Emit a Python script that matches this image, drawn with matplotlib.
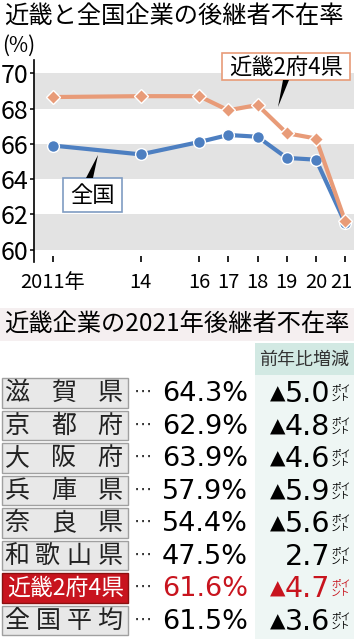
import matplotlib
matplotlib.use("Agg")
import matplotlib.pyplot as plt
import matplotlib.transforms as mtransforms
from matplotlib.patches import Rectangle, Polygon

plt.rcParams['font.family'] = ['Noto Sans CJK JP', 'DejaVu Sans']

# ── DATA ────────────────────────────────────────────────────
years       = [2011, 2014, 2016, 2017, 2018, 2019, 2020, 2021]
year_labels = ["2011年", "14", "16", "17", "18", "19", "20", "21"]
kinki       = [68.65, 68.7, 68.7, 67.9, 68.2, 66.6, 66.3, 61.6]
zenkoku     = [65.9, 65.4, 66.1, 66.5, 66.4, 65.2, 65.1, 61.5]
y_ticks     = [60, 62, 64, 66, 68, 70]

regions = ["滋賀県", "京都府", "大阪府", "兵庫県", "奈良県", "和歌山県", "近畿2府4県", "全国平均"]
rates   = [64.3, 62.9, 63.9, 57.9, 54.4, 47.5, 61.6, 61.5]
changes = [-5.0, -4.8, -4.6, -5.9, -5.6, 2.7, -4.7, -3.6]   # ▲ = minus
highlight = "近畿2府4県"

# ── STYLE ───────────────────────────────────────────────────
W, H = 354, 639
ORANGE = "#e89b78"
BLUE = "#4d7fc1"
BAND = "#e3e3e3"
RED = "#c8141e"

fig = plt.figure(figsize=(W / 100, H / 100), dpi=100)
fig.patch.set_facecolor("white")

# ── LINE CHART ──────────────────────────────────────────────
ax = fig.add_axes([34 / W, 1 - 262 / H, 320 / W, 202 / H])
ax.set_xlim(2010.35, 2021.3)
ax.set_ylim(59.3, 70.75)
for lo in (60, 64, 68):
    ax.axhspan(lo, lo + 2, color=BAND, lw=0, zorder=0)

ax.plot(years, zenkoku, color=BLUE, lw=3, marker="o", ms=8.5,
        mfc=BLUE, mec="white", mew=1, zorder=3)
ax.plot(years, kinki, color=ORANGE, lw=3, marker="D", ms=7.5,
        mfc=ORANGE, mec="white", mew=1, zorder=4)

ax.set_yticks(y_ticks)
ax.set_yticklabels([str(v) for v in y_ticks], fontsize=18)
ax.set_xticks(years)
ax.set_xticklabels(year_labels, fontsize=14.5)
ax.tick_params(axis="y", direction="out", length=3, width=1.1, pad=1)
ax.tick_params(axis="x", direction="in", length=4, width=1.2, pad=7)
# last year label sits right at the edge: nudge it inside
last = ax.get_xticklabels()[-1]
last.set_transform(last.get_transform() +
                   mtransforms.ScaledTranslation(-3 / 72, 0, fig.dpi_scale_trans))
for s in ("top", "right", "bottom"):
    ax.spines[s].set_visible(False)
ax.spines["left"].set_linewidth(1.2)
ax.set_facecolor("white")

# ── OVERLAY (pixel coordinates) ─────────────────────────────
ov = fig.add_axes([0, 0, 1, 1], zorder=5)
ov.set_xlim(0, W)
ov.set_ylim(H, 0)
ov.axis("off")
ov.patch.set_alpha(0)

ov.text(4, 17, "近畿と全国企業の後継者不在率", fontsize=17.5, va="center", ha="left")
ov.text(2, 46, "(%)", fontsize=15, va="center", ha="left")

# series labels
ov.add_patch(Rectangle((222, 53), 128, 27, fc="white", ec=ORANGE, lw=1.2))
ov.text(286, 67, "近畿2府4県", fontsize=16, ha="center", va="center")
ov.add_patch(Polygon([(283, 80), (289, 80), (278, 107)], closed=True, fc="black", ec="none"))

ov.add_patch(Rectangle((63, 178), 59, 34, fc="white", ec="#7f9cc2", lw=1.2))
ov.text(92.5, 195, "全国", fontsize=16, ha="center", va="center")
ov.add_patch(Polygon([(98, 155), (86, 178), (93, 178)], closed=True, fc="black", ec="none"))

# ── TABLE ───────────────────────────────────────────────────
ov.add_patch(Rectangle((0, 308), W, 33, fc="#f5eff0", ec="none"))
ov.text(4, 325, "近畿企業の2021年後継者不在率", fontsize=17.5, va="center", ha="left")

ov.add_patch(Rectangle((255, 375), W - 255, H - 375, fc="#eef6f4", ec="none"))
ov.add_patch(Rectangle((255, 343), W - 255, 32, fc="#d2e9e3", ec="none"))
ov.text(304, 360, "前年比増減", fontsize=13, ha="center", va="center", color="#333333")

renderer = fig.canvas.get_renderer()
row_top, pitch = 377, 32.5
for i, (name, rate, ch) in enumerate(zip(regions, rates, changes)):
    y0 = row_top + i * pitch
    yc = y0 + pitch / 2
    hl = name == highlight
    ov.add_patch(Rectangle((2, y0 + 1), 126, pitch - 3,
                           fc=RED if hl else "#e8e8e8",
                           ec="#8a1010" if hl else "#a0a0a0", lw=1))
    if hl:
        ov.text(66, yc, name, fontsize=16.5, color="white", ha="center", va="center")
    else:
        n = len(name)
        for j, c in enumerate(name):
            ov.text(17 + j * (93 / (n - 1)), yc, c, fontsize=18,
                    ha="center", va="center", color="#222222")
    col = RED if hl else "black"
    ov.text(134, yc - 1, "⋯", fontsize=13, ha="left", va="center",
            family="DejaVu Sans", color="#333333")
    ov.text(248, yc + 1, f"{rate:.1f}%", fontsize=19.5, ha="right", va="center",
            family="DejaVu Sans", color=col)
    num = ov.text(330, yc + 1, f"{abs(ch):.1f}", fontsize=20.5, ha="right", va="center",
                  family="DejaVu Sans", color=col)
    if ch < 0:
        bb = num.get_window_extent(renderer)
        left_px = bb.x0 * W / fig.bbox.width
        ov.text(left_px + 1, yc + 1, "▲", fontsize=14.5, ha="right", va="center",
                family="DejaVu Sans", color=col)
    ov.text(331, yc - 5, "ポイ", fontsize=7, ha="left", va="center", color=col)
    ov.text(331, yc + 5, "ント", fontsize=7, ha="left", va="center", color=col)

fig.savefig("out.png", dpi=100)
